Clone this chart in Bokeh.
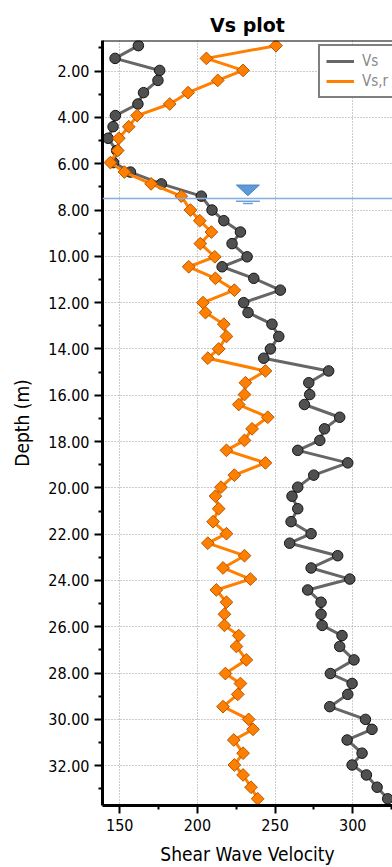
import math
from bokeh.plotting import figure
from bokeh.models import (Range1d, FixedTicker, PrintfTickFormatter, Span,
                          Legend, LegendItem, ColumnDataSource)
from bokeh.embed import file_html
from bokeh.resources import INLINE

# ---- data ----
depth = [0.90, 1.45, 1.97, 2.40, 2.93, 3.42, 3.92, 4.40, 4.90, 5.43, 5.95, 6.36,
         6.87, 7.40, 8.00, 8.46, 8.95, 9.45, 10.02, 10.45, 10.95, 11.46, 12.00,
         12.43, 12.93, 13.46, 14.00, 14.40, 14.95, 15.46, 15.97, 16.40, 16.95,
         17.45, 17.95, 18.38, 18.92, 19.45, 19.97, 20.36, 20.90, 21.46, 21.98,
         22.39, 22.93, 23.46, 23.94, 24.41, 24.94, 25.46, 25.94, 26.38, 26.85,
         27.43, 28.02, 28.45, 28.92, 29.45, 30.00, 30.43, 30.89, 31.46, 31.97,
         32.40, 32.93, 33.43]
vs = [162.0, 147.0, 175.7, 174.6, 165.3, 161.7, 147.2, 145.7, 142.5, 148.0,
      146.0, 156.9, 176.8, 202.5, 209.4, 217.0, 227.7, 222.3, 232.0, 215.9,
      236.3, 253.4, 229.8, 232.6, 248.0, 252.4, 247.0, 242.7, 284.5, 271.7,
      272.3, 268.9, 291.6, 281.8, 278.8, 264.6, 296.8, 274.9, 264.6, 260.9,
      264.6, 260.3, 273.2, 259.4, 290.3, 273.2, 298.1, 271.0, 279.6, 279.6,
      280.3, 293.1, 291.6, 300.8, 285.6, 299.6, 296.8, 285.2, 308.2, 312.4,
      296.4, 306.0, 299.6, 308.8, 315.7, 322.5]
vs_r = [250.6, 205.8, 229.4, 213.1, 194.0, 182.2, 161.2, 155.8, 149.4, 148.7,
        144.0, 153.0, 170.2, 189.6, 195.5, 201.5, 209.0, 201.9, 211.2, 194.4,
        211.6, 223.8, 203.6, 205.2, 217.0, 218.7, 213.7, 206.7, 243.8, 230.9,
        230.3, 226.6, 245.3, 235.2, 230.3, 218.7, 243.8, 223.8, 215.2, 211.6,
        213.7, 210.1, 218.7, 206.7, 230.3, 216.5, 234.1, 212.2, 218.7, 217.4,
        217.4, 226.6, 225.1, 231.5, 218.0, 227.7, 226.0, 216.5, 233.0, 235.8,
        223.4, 229.4, 223.8, 229.4, 234.5, 238.8]
series_labels = ["Vs", "Vs,r"]
x_ticks = [150, 200, 250, 300]
x_minor = [175, 225, 275, 325]
y_ticks = [2, 4, 6, 8, 10, 12, 14, 16, 18, 20, 22, 24, 26, 28, 30, 32]
y_minor = [1, 3, 5, 7, 9, 11, 13, 15, 17, 19, 21, 23, 25, 27, 29, 31, 33]
wt_depth = 7.5      # water table depth (m)
wt_x = 232.5        # velocity position of the water-table symbol

X_MIN, X_MAX = 138.9, 325.6
Y_TOP, Y_BOT = 0.677, 33.72

W, H = 392, 867
B_LEFT, B_TOP, B_BOT = 102, 40, 60
TICK_FONT = "DejaVu Sans Condensed"

p = figure(width=W, height=H, output_backend="svg", toolbar_location=None,
           x_range=Range1d(X_MIN, X_MAX), y_range=Range1d(Y_BOT, Y_TOP),
           min_border_left=B_LEFT, min_border_right=0,
           min_border_top=B_TOP, min_border_bottom=B_BOT,
           title="Vs plot")
p.background_fill_color = "white"
p.border_fill_color = "white"
p.outline_line_color = None

p.title.align = "center"
p.title.text_font = "DejaVu Sans"
p.title.text_font_style = "bold"
p.title.text_font_size = "19px"
p.title.text_color = "black"
p.title.standoff = 10

# axes
for ax in (p.xaxis[0], p.yaxis[0]):
    ax.axis_line_width = 3
    ax.axis_line_color = "black"
    ax.major_tick_line_width = 2
    ax.minor_tick_line_width = 2
    ax.major_tick_line_color = "black"
    ax.minor_tick_line_color = "black"
    ax.major_tick_out = 8
    ax.major_tick_in = 0
    ax.minor_tick_out = 4
    ax.minor_tick_in = 0
    ax.major_label_text_font = TICK_FONT
    ax.major_label_text_font_size = "16px"
    ax.major_label_text_color = "black"
    ax.axis_label_text_font = TICK_FONT
    ax.axis_label_text_font_size = "19px"
    ax.axis_label_text_font_style = "normal"
    ax.axis_label_text_color = "black"

p.xaxis[0].ticker = FixedTicker(ticks=x_ticks, minor_ticks=x_minor)
p.yaxis[0].ticker = FixedTicker(ticks=y_ticks, minor_ticks=y_minor)
p.yaxis[0].formatter = PrintfTickFormatter(format="%.2f")
p.xaxis[0].axis_label = "Shear Wave Velocity"
p.yaxis[0].axis_label = "Depth (m)"
p.xaxis[0].major_label_standoff = 5
p.xaxis[0].axis_label_standoff = 9
p.yaxis[0].major_label_standoff = 5
p.yaxis[0].axis_label_standoff = 12

for g in (p.xgrid[0], p.ygrid[0]):
    g.grid_line_color = "#999999"
    g.grid_line_dash = "1 2"
    g.grid_line_width = 1

# top border
p.add_layout(Span(location=Y_TOP, dimension="width", line_color="black", line_width=2))

src = ColumnDataSource(dict(depth=depth, vs=vs, vs_r=vs_r))

l1 = p.line("vs", "depth", source=src, line_color="#666666", line_width=3)
p.scatter("vs", "depth", source=src, marker="circle", size=10.5,
          fill_color="#505050", line_color="#151515", line_width=1)
l2 = p.line("vs_r", "depth", source=src, line_color="#ff8000", line_width=3)
p.scatter("vs_r", "depth", source=src, marker="square", angle=math.pi / 4, size=9,
          fill_color="#ff8000", line_color="#b85500", line_width=1)

# water table
p.add_layout(Span(location=wt_depth, dimension="width", line_color="#86aee0", line_width=1.5))
px_per_v = 1.5533
hw = 11.5 / px_per_v
p.patch([wt_x - hw, wt_x + hw, wt_x], [wt_depth - 0.58, wt_depth - 0.58, wt_depth - 0.12],
        fill_color="#5e9ad6", line_color="#4a86c8", line_width=1)
p.segment([wt_x - 7.7, wt_x - 3.2], [wt_depth + 0.12, wt_depth + 0.22],
          [wt_x + 7.7, wt_x + 3.2], [wt_depth + 0.12, wt_depth + 0.22],
          line_color="#6f9fd8", line_width=1.5)

frame_h = H - B_TOP - B_BOT
legend = Legend(items=[LegendItem(label=series_labels[0], renderers=[l1]),
                       LegendItem(label=series_labels[1], renderers=[l2])],
                location=(216, frame_h - 60), margin=0, padding=6, spacing=2,
                label_height=18, glyph_height=18, glyph_width=28, label_standoff=8,
                border_line_color="black", border_line_width=2,
                background_fill_color="white", background_fill_alpha=1,
                label_text_color="#8a8a8a", label_text_font=TICK_FONT,
                label_text_font_size="15px")
p.add_layout(legend)

open("out.html", "w").write(file_html(p, INLINE))
